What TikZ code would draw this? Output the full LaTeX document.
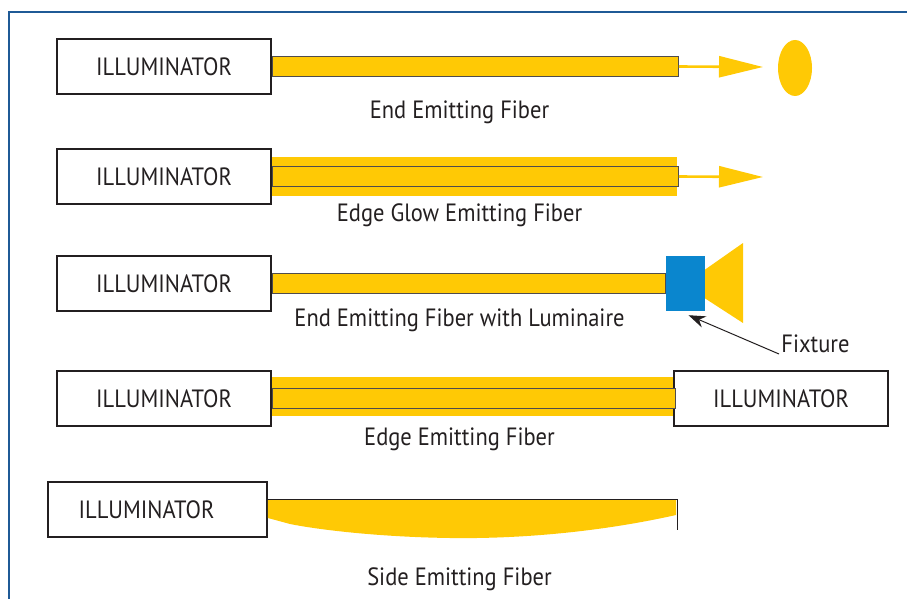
\documentclass[tikz,border=0pt]{standalone}
\usepackage{fontspec}
\setmainfont{PT Sans}[FakeStretch=0.9]
\usetikzlibrary{arrows.meta,positioning,calc,shapes.geometric}
\definecolor{cfiber}{HTML}{FFC905}
\definecolor{cfix}{HTML}{0A86CE}
\definecolor{cframe}{HTML}{1F5A96}
\definecolor{cink}{HTML}{231F20}
\tikzset{
  illum/.style={draw=cink, line width=1.8pt, fill=white, minimum width=214, minimum height=55, inner sep=0pt, font=\fontsize{25}{27}\selectfont, text=cink},
  fiber/.style={draw=cink!80, line width=0.9pt, fill=cfiber, minimum height=20, inner sep=0pt},
  glow/.style={fill=cfiber, minimum height=39, inner sep=0pt},
  ray/.style={draw=cfiber, line width=2.6pt, -{Triangle[length=44pt,width=21pt]}},
  spot/.style={ellipse, fill=cfiber, minimum width=34, minimum height=56, inner sep=0pt},
  fixbox/.style={fill=cfix, minimum width=39, minimum height=55, inner sep=0pt},
  pointer/.style={draw=cink, line width=1pt, -{Stealth[length=17pt,width=12pt]}},
  lbl/.style={font=\fontsize{25}{27}\selectfont, text=cink, inner sep=1pt},
}
\begin{document}
\begin{tikzpicture}[x=1pt,y=-1pt]
\useasboundingbox (0,0) rectangle (907,599);
\draw[cframe, line width=1.2pt] (9,599) -- (9,12) -- (907,12);
% fibers first, boxes on top
\node[glow, minimum width=406, anchor=west] (g2) at (271,176.5) {};
\node[glow, minimum width=403, anchor=west] (g4) at (271,396.5) {};
\foreach \i/\y in {1/66.5,2/176.5,3/283.5,4/398.5}{
  \node[illum] (il\i) at (164,\y) {ILLUMINATOR};
}
\node[illum] (il4r) at (781,398.5) {ILLUMINATOR};
\node[fiber, minimum width=406, right=0pt of il1] (f1) {};
\node[fiber, minimum width=406, right=0pt of il2] (f2) {};
\node[fiber, minimum width=393, right=0pt of il3] (f3) {};
\node[fiber, minimum width=403, right=0pt of il4] (f4) {};
% end emitting
\coordinate (t1) at (763,67);
\draw[ray] (f1.east) -- (t1);
\node[spot] (s1) at (795,68) {};
% edge glow
\coordinate (t2) at (763,177);
\draw[ray] (f2.east) -- (t2);
% luminaire
\node[fixbox, right=0pt of f3] (fx) {};
\fill[cfiber] ($(fx.east)+(0,-14)$) -- (743,243) -- (743,323) -- ($(fx.east)+(0,15)$) -- cycle;
\node[lbl] (fxl) at (815.5,344) {Fixture};
\coordinate (fxs) at (779,354);
\draw[pointer] (fxs) -- ($(fx.south)+(3,4)$);
% side emitting
\node[illum, minimum width=219] (il5) at (157.5,509.5) {ILLUMINATOR\kern22pt};
\fill[cfiber] (il5.east |- 0,500) -- (676,500) -- (676,515)
  .. controls (600,532) and (520,539) .. (450,538)
  .. controls (380,537) and (320,530) .. (290,524) -- (il5.east |- 0,518) -- cycle;
\draw[cink, line width=0.8pt] (il5.east |- 0,499) -- (677,499) -- (677,530);
% captions
\foreach \y/\t in {112/End Emitting Fiber, 215/Edge Glow Emitting Fiber, 320/End Emitting Fiber with Luminaire, 439/Edge Emitting Fiber, 579/Side Emitting Fiber}{
  \node[lbl] at (459.5,\y) {\t};
}
\end{tikzpicture}
\end{document}
